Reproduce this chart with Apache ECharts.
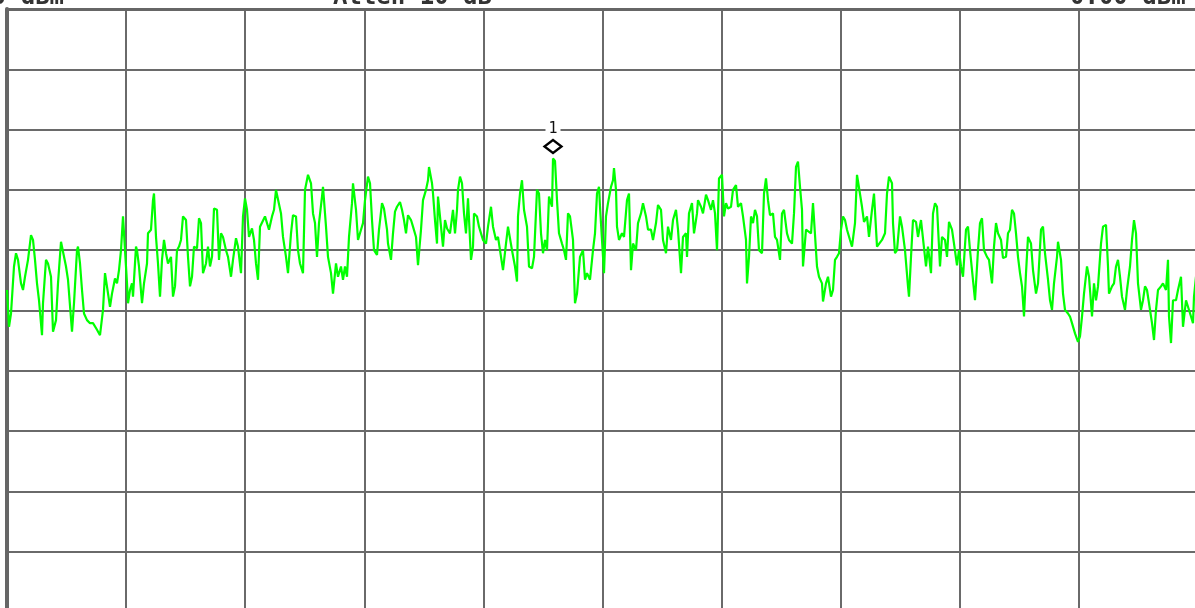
<!DOCTYPE html>
<html>
<head>
<meta charset="utf-8">
<script src="https://cdn.jsdelivr.net/npm/echarts@6/dist/echarts.min.js"></script>
<style>
html,body{margin:0;padding:0;background:#fff;overflow:hidden;width:1195px;height:608px;}
#chart{width:1210px;height:625px;}
</style>
</head>
<body>
<div id="chart"></div>
<script>
// Header texts (partially clipped at the top edge in the reference)
const headerLeft = 'Ref 0 dBm';
const headerCenter = 'Atten 10 dB';
const headerRight = '0.00 dBm';
const markerLabel = '1';

// Axis definitions: 10 divisions horizontally, 10 dB/div vertically
const freqMin = 0, freqMax = 1191, freqDiv = 119.1;
const levelMin = -100, levelMax = 0, levelDiv = 10;

// Trace, [frequency offset, level dBm]
const traceA = [[0,-46.6],[2,-52.7],[4,-50.5],[7,-42.7],[9,-40.5],[11,-41.6],[14,-45.5],[16,-46.6],[18,-44.4],[21,-41.6],[24,-37.5],[26,-38.3],[28,-41.6],[30,-45.5],[32,-48.3],[35,-54.1],[36,-48.8],[39,-41.6],[41,-42.2],[44,-44.4],[46,-53.5],[49,-51.6],[51,-45.5],[54,-38.6],[56,-38.6],[59,-42.7],[61,-44.9],[65,-53.5],[67,-48.8],[70,-40.0],[71,-39.4],[73,-42.2],[75,-46.6],[77,-50.5],[80,-51.6],[83,-52.1],[86,-52.1],[90,-53.2],[93,-54.1],[96,-49.9],[98,-43.8],[100,-43.6],[103,-49.4],[105,-47.2],[108,-44.7],[110,-45.5],[112,-43.3],[114,-40.0],[116,-34.4],[118,-34.4],[120,-45.5],[121,-48.8],[123,-46.6],[125,-45.5],[126,-47.7],[129,-39.4],[130,-40.0],[132,-42.7],[135,-48.8],[137,-45.5],[140,-42.2],[141,-37.2],[144,-36.6],[146,-31.7],[147,-30.6],[149,-37.8],[151,-42.2],[153,-47.7],[155,-41.6],[157,-38.3],[159,-40.5],[161,-42.2],[164,-41.1],[166,-47.7],[168,-46.0],[170,-40.0],[172,-39.4],[174,-38.3],[176,-34.4],[179,-35.0],[181,-41.1],[183,-46.0],[185,-44.4],[187,-39.4],[190,-39.7],[192,-34.7],[194,-35.5],[196,-43.8],[199,-42.2],[201,-39.4],[203,-42.7],[205,-41.1],[207,-33.1],[210,-33.3],[212,-41.6],[214,-37.2],[216,-37.8],[219,-40.0],[221,-41.1],[224,-44.4],[226,-41.6],[229,-38.0],[231,-39.4],[234,-43.8],[236,-34.4],[238,-31.4],[240,-33.3],[242,-37.8],[245,-36.4],[247,-38.3],[249,-42.2],[251,-44.9],[253,-36.1],[255,-36.1],[258,-34.4],[260,-34.4],[262,-36.6],[265,-34.4],[267,-33.3],[269,-30.0],[271,-30.0],[274,-33.9],[276,-37.8],[279,-41.1],[281,-43.8],[284,-37.2],[286,-34.2],[289,-34.4],[291,-40.0]];
const traceB = [[293,-42.2],[296,-43.8],[298,-30.0],[301,-27.5],[304,-28.9],[306,-33.9],[308,-35.5],[310,-41.1],[312,-35.5],[315,-31.1],[316,-29.5],[319,-36.1],[321,-41.1],[324,-43.8],[326,-47.2],[329,-42.2],[331,-44.4],[334,-42.7],[336,-44.9],[338,-42.7],[340,-44.4],[342,-37.8],[345,-32.2],[346,-28.9],[349,-33.3],[351,-38.3],[354,-36.6],[356,-35.5],[358,-31.7],[361,-27.8],[363,-28.9],[365,-35.0],[367,-40.0],[370,-40.8],[372,-36.6],[375,-32.2],[377,-33.1],[380,-36.6],[381,-38.9],[384,-41.6],[386,-37.2],[388,-33.6],[390,-32.8],[393,-32.0],[395,-33.3],[397,-35.0],[399,-37.2],[401,-34.2],[404,-35.0],[406,-36.1],[409,-37.8],[411,-42.5],[414,-36.6],[416,-31.7],[419,-30.0],[421,-28.4],[422,-26.2],[425,-28.9],[426,-30.6],[428,-35.0],[430,-38.9],[431,-31.1],[433,-31.1],[436,-39.4],[438,-35.0],[440,-36.4],[443,-37.2],[446,-33.3],[448,-37.2],[450,-33.3],[451,-30.0],[453,-27.8],[455,-28.9],[457,-33.9],[459,-37.2],[461,-31.4],[464,-41.6],[466,-39.4],[467,-33.9],[470,-34.4],[472,-36.1],[474,-37.2],[476,-38.3],[479,-38.9],[481,-36.1],[484,-32.8],[486,-36.1],[489,-38.3],[491,-37.8],[494,-41.1],[496,-43.3],[499,-38.9],[501,-36.1],[503,-36.1],[505,-40.0],[508,-42.7],[510,-45.2],[511,-34.4],[513,-30.6],[515,-28.4],[517,-33.3],[520,-36.1],[522,-42.7],[525,-43.0],[527,-41.1],[530,-30.0],[532,-30.6],[534,-37.2],[536,-40.5],[538,-38.3],[540,-40.0],[542,-31.1],[545,-32.8],[546,-24.8],[548,-25.2],[550,-31.7],[552,-37.2],[555,-38.9],[557,-40.0],[559,-41.6],[561,-33.9],[563,-34.4],[566,-38.3],[568,-48.8],[570,-47.2],[573,-41.1],[576,-40.0],[578,-44.9],[580,-43.8],[583,-44.9],[586,-40.0],[588,-37.2],[590,-30.6],[592,-29.5]];
const traceC = [[593,-32.8],[595,-38.3],[597,-43.8],[599,-34.4],[601,-32.2],[604,-29.5],[606,-28.4],[607,-26.4],[609,-30.0],[610,-36.1],[612,-38.3],[615,-37.2],[617,-37.8],[620,-31.7],[622,-30.6],[624,-43.3],[626,-38.9],[629,-40.0],[631,-35.5],[634,-33.9],[636,-32.2],[639,-34.4],[641,-36.6],[644,-36.6],[646,-38.3],[649,-35.5],[651,-32.5],[654,-33.3],[656,-38.3],[659,-40.5],[661,-36.1],[664,-38.3],[666,-35.0],[669,-33.3],[671,-36.6],[674,-43.8],[676,-37.8],[679,-37.2],[680,-41.1],[682,-33.9],[685,-32.2],[687,-37.2],[690,-33.9],[691,-31.7],[694,-32.8],[696,-33.9],[699,-30.8],[701,-31.7],[704,-33.3],[706,-31.7],[708,-33.9],[710,-40.0],[712,-28.1],[715,-27.5],[717,-34.4],[719,-32.2],[721,-33.1],[724,-32.8],[726,-30.0],[729,-29.2],[731,-32.8],[734,-32.2],[736,-34.4],[739,-38.3],[740,-45.5],[742,-41.1],[744,-34.4],[746,-35.5],[748,-33.3],[750,-34.4],[752,-40.0],[755,-40.5],[757,-30.6],[759,-28.1],[761,-31.7],[763,-34.2],[766,-33.9],[768,-37.8],[770,-38.3],[773,-41.6],[775,-33.9],[777,-33.3],[780,-37.2],[782,-38.3],[785,-38.9],[787,-33.9],[789,-26.2],[791,-25.3],[793,-29.5],[795,-33.3],[796,-42.7],[799,-36.6],[801,-36.4],[804,-37.2],[806,-32.2],[807,-32.2],[810,-42.7],[812,-44.4],[815,-45.5],[816,-48.5],[819,-45.5],[821,-44.4],[824,-47.7],[826,-46.6],[828,-41.6],[830,-41.1],[832,-40.5],[834,-36.6],[836,-34.4],[838,-35.0],[840,-36.6],[843,-38.3],[845,-39.4],[848,-35.5],[850,-27.5],[852,-27.8],[855,-32.8],[857,-35.3],[860,-34.4],[862,-37.8],[865,-33.3],[867,-30.6],[870,-39.4],[872,-39.7],[875,-38.3],[878,-37.2],[880,-30.6],[882,-27.8],[885,-28.9],[886,-35.5],[888,-40.5],[890,-40.0]];
const traceD = [[893,-34.4],[895,-36.1],[898,-40.0],[901,-46.0],[902,-47.7],[904,-41.1],[906,-35.0],[909,-35.3],[911,-37.8],[914,-35.0],[916,-34.7],[919,-42.7],[921,-39.4],[924,-43.8],[926,-33.9],[928,-32.2],[930,-32.8],[933,-42.7],[935,-37.8],[938,-38.3],[940,-41.1],[942,-35.3],[945,-36.6],[947,-38.9],[950,-42.5],[952,-40.0],[954,-42.7],[956,-44.4],[959,-36.6],[961,-36.1],[963,-40.0],[965,-40.0],[968,-48.3],[971,-40.0],[973,-35.5],[975,-34.7],[977,-40.0],[980,-41.1],[982,-41.6],[985,-45.5],[987,-39.4],[989,-35.5],[991,-37.2],[994,-38.3],[996,-41.3],[999,-41.1],[1001,-37.2],[1003,-36.6],[1005,-33.3],[1007,-33.9],[1009,-37.2],[1011,-41.1],[1013,-43.8],[1015,-46.0],[1017,-51.0],[1019,-43.8],[1021,-37.8],[1024,-38.9],[1026,-43.3],[1029,-47.2],[1031,-45.5],[1034,-36.6],[1036,-36.1],[1038,-40.5],[1041,-44.9],[1043,-48.3],[1045,-49.9],[1047,-45.5],[1050,-41.1],[1051,-38.6],[1054,-41.6],[1056,-47.2],[1058,-49.9],[1061,-50.5],[1063,-51.0],[1065,-52.1],[1068,-53.8],[1071,-55.2],[1073,-54.3],[1075,-51.0],[1077,-47.2],[1080,-42.7],[1082,-44.4],[1085,-51.0],[1087,-45.5],[1089,-48.3],[1091,-46.0],[1094,-38.9],[1096,-36.1],[1099,-35.8],[1101,-42.7],[1102,-47.2],[1105,-46.0],[1107,-45.5],[1109,-42.7],[1111,-41.6],[1113,-44.4],[1115,-47.7],[1118,-49.9],[1120,-46.6],[1123,-42.7],[1125,-38.3],[1127,-35.0],[1129,-37.2],[1131,-45.5],[1134,-49.9],[1136,-48.3],[1138,-46.0],[1140,-46.6],[1142,-48.8],[1145,-52.1],[1147,-54.9],[1149,-49.9],[1151,-46.6],[1154,-46.0],[1156,-45.5],[1159,-46.6],[1161,-41.6],[1162,-51.0],[1164,-55.4],[1166,-48.3],[1169,-48.3],[1171,-46.6],[1174,-44.4],[1176,-52.7],[1179,-48.3],[1181,-48.3],[1184,-51.0],[1186,-52.1],[1187,-47.7],[1189,-44.4],[1191,-47.0]];

const trace = traceA.concat(traceB, traceC, traceD);

const chart = echarts.init(document.getElementById('chart'), null, {renderer: 'canvas'});
const gridColor = '#6a6a6a';
const monoFont = '"DejaVu Sans Mono", "Liberation Mono", monospace';

chart.setOption({
  backgroundColor: '#ffffff',
  animation: false,
  grid: {left: 7, top: 9, width: 1191, height: 603, containLabel: false},
  xAxis: [{
    type: 'value', min: freqMin, max: freqMax, interval: freqDiv,
    position: 'top',
    axisLine: {show: true, onZero: false, lineStyle: {color: '#666', width: 3}},
    axisTick: {show: false}, axisLabel: {show: false},
    splitLine: {show: true, lineStyle: {color: gridColor, width: 2}}
  }],
  yAxis: [{
    type: 'value', min: levelMin, max: levelMax, interval: levelDiv,
    axisLine: {show: true, onZero: false, lineStyle: {color: '#666', width: 4}},
    axisTick: {show: false}, axisLabel: {show: false},
    splitLine: {show: true, lineStyle: {color: gridColor, width: 2}}
  }],
  series: [{
    type: 'line',
    data: trace,
    showSymbol: false,
    symbol: 'none',
    lineStyle: {color: '#00ff00', width: 2.2},
    z: 5,
    markPoint: {
      symbol: 'diamond',
      symbolSize: [17, 13],
      symbolOffset: [0, -12],
      itemStyle: {color: '#ffffff', borderColor: '#000000', borderWidth: 2.4},
      label: {
        show: true, position: 'top', distance: 2, formatter: markerLabel,
        color: '#111', fontFamily: monoFont, fontSize: 15,
        backgroundColor: '#ffffff', padding: [0, 3, 0, 3]
      },
      data: [{type: 'max'}]
    }
  }],
  graphic: [
    {type: 'text', left: -66, top: -14, style: {text: headerLeft, font: 'bold 24px ' + monoFont, fill: '#333'}},
    {type: 'text', left: 333, top: -14, style: {text: headerCenter, font: 'bold 24px ' + monoFont, fill: '#333'}},
    {type: 'text', left: 1070, top: -14, style: {text: headerRight, font: 'bold 24px ' + monoFont, fill: '#333'}}
  ]
});
</script>
</body>
</html>
